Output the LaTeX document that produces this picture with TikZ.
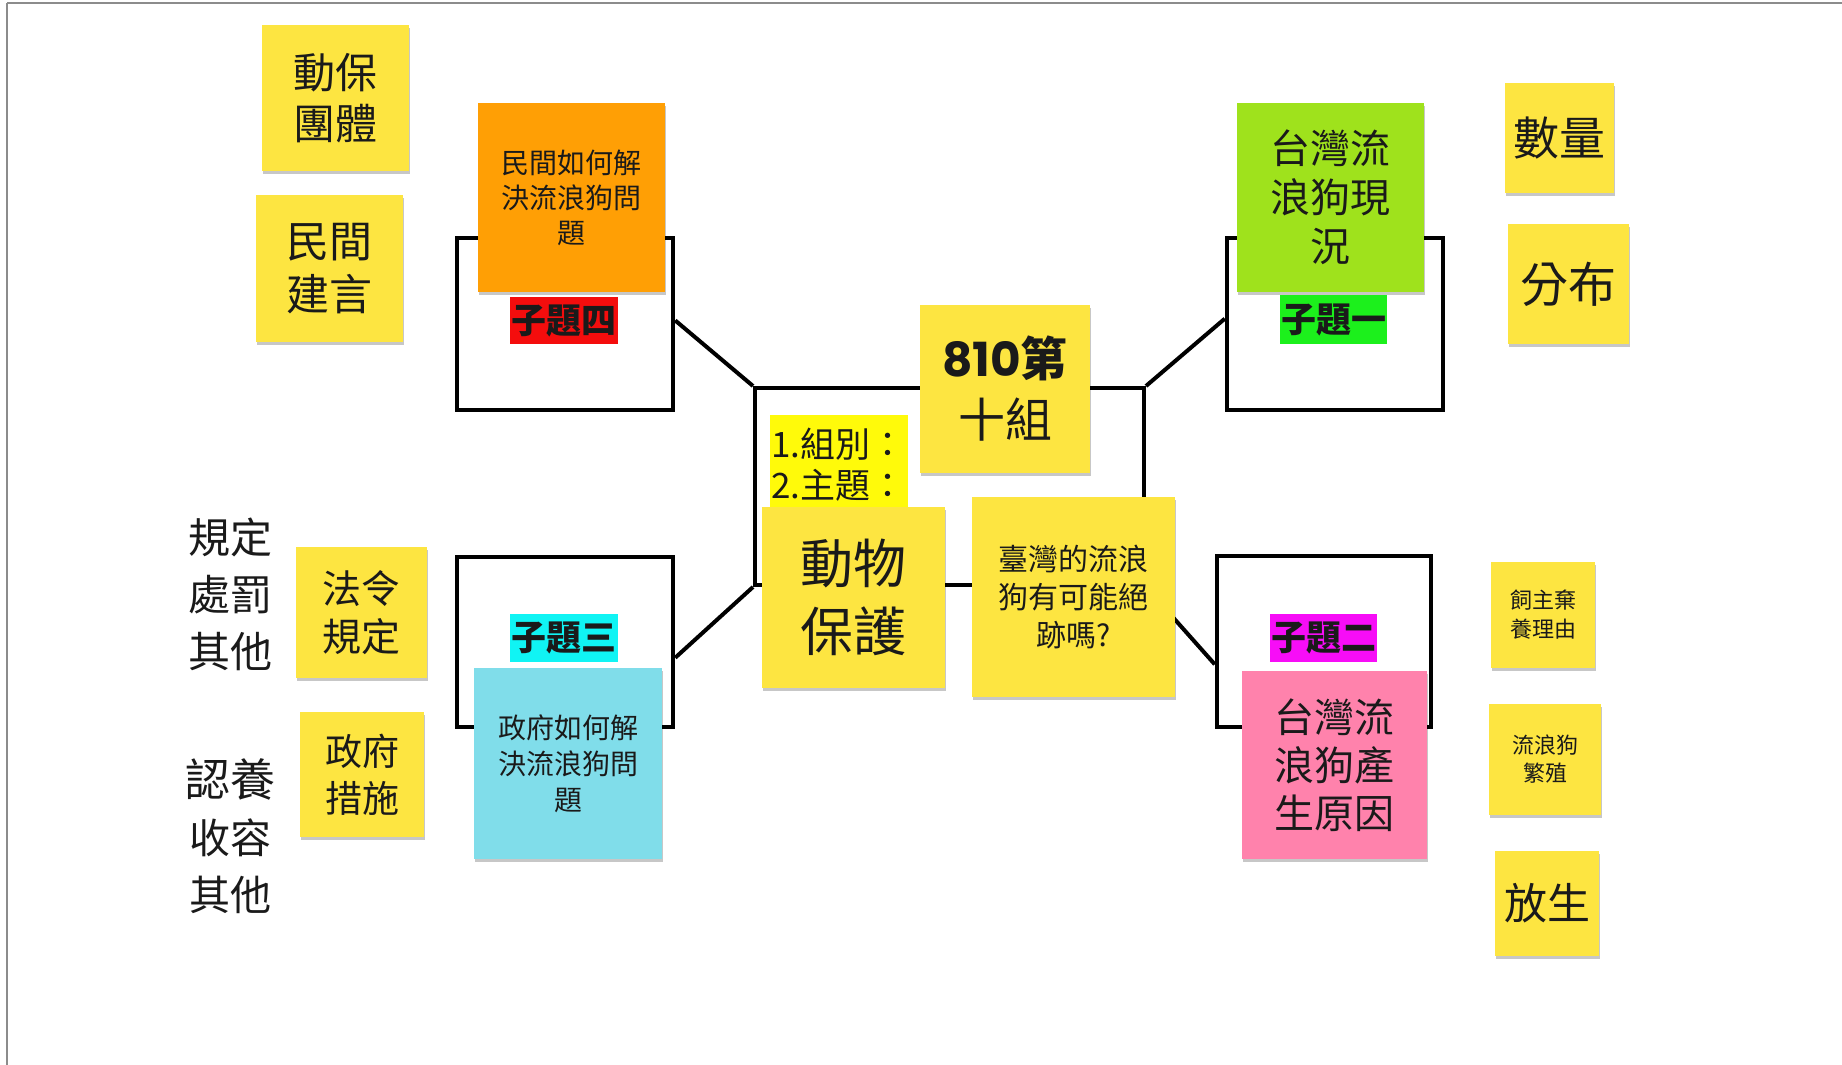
\documentclass[tikz,border=0pt]{standalone}
\usepackage{fontspec}
\setmainfont{Noto Sans CJK TC}
\newfontfamily\popfont{Poppins}
\usetikzlibrary{calc,shadows}
\definecolor{sticky}{HTML}{FDE541}
\definecolor{orangenote}{HTML}{FF9F05}
\definecolor{greennote}{HTML}{9FE21C}
\definecolor{bluenote}{HTML}{80DDEA}
\definecolor{pinknote}{HTML}{FF82AC}
\definecolor{labred}{HTML}{F40D0D}
\definecolor{labgreen}{HTML}{1CF01C}
\definecolor{labcyan}{HTML}{10F4F4}
\definecolor{labmag}{HTML}{F70DF7}
\definecolor{hilite}{HTML}{FFFA0A}
\definecolor{ink}{HTML}{1A1A1A}
\definecolor{rim}{HTML}{8C8C8C}
\newcommand{\fs}[2]{\fontsize{#1}{#2}\selectfont}
\begin{document}
\begin{tikzpicture}[x=1pt,y=-1pt,
  note/.style={rectangle, inner sep=0pt, align=center, text=ink,
    drop shadow={shadow xshift=1pt, shadow yshift=-3pt, opacity=.22, fill=black}},
  frame/.style={rectangle, draw=black, line width=4.5pt, inner sep=0pt},
  conn/.style={draw=black, line width=4pt},
  lab/.style={rectangle, inner sep=0pt, text=ink, font=\bfseries\fs{35}{40}},
  plain/.style={inner sep=0pt, align=center, text=ink}]
\useasboundingbox (0,0) rectangle (1842,1065);
\fill[white] (0,0) rectangle (1842,1065);
\draw[rim, line width=2.5pt] (7,3) -- (1842,3);
\draw[rim, line width=2.5pt] (7,3) -- (7,1065);

% frames
\node[frame, minimum width=216, minimum height=172] (ftl) at (565,324) {};
\node[frame, minimum width=216, minimum height=172] (ftr) at (1335,324) {};
\node[frame, minimum width=216, minimum height=170] (fbl) at (565,642) {};
\node[frame, minimum width=214, minimum height=171] (fbr) at (1324,641.5) {};
\node[frame, line width=4pt, minimum width=389, minimum height=197] (fc) at (949.5,486.5) {};

% connectors
\draw[conn] (fc.north west) -- ($(ftl.north east)!0.48!(ftl.south east)$);
\draw[conn] (fc.north east) -- ($(ftr.north west)!0.47!(ftr.south west)$);
\draw[conn] (fc.south west) -- ($(fbl.north east)!0.59!(fbl.south east)$);
\draw[conn] (fc.south east) -- ($(fbr.north west)!0.63!(fbr.south west)$);

% left side notes
\node[note, fill=sticky, minimum width=147, minimum height=146, font=\fs{42}{51}] (dongbao) at (335.5,98) {動保\\團體};
\node[note, fill=sticky, minimum width=147, minimum height=147, font=\fs{43}{53}] (minjian) at (329.5,268.5) {民間\\建言};
\node[note, fill=sticky, minimum width=131, minimum height=131, font=\fs{39}{48}] (faling) at (361.5,612.5) {法令\\規定};
\node[note, fill=sticky, minimum width=124, minimum height=125, font=\fs{37}{47}] (zhengfu) at (362,774.5) {政府\\措施};
\node[plain, font=\fs{42}{57}] (gd) at (230,594) {規定\\處罰\\其他};
\node[plain, font=\fs{41}{57}] (ry) at (230,836) {{\fs{45}{57}認養}\\收容\\其他};

% topic notes
\node[note, fill=orangenote, minimum width=187, minimum height=189, font=\fs{28}{35}] (orange) at (571.5,197.5) {民間如何解\\決流浪狗問\\題};
\node[lab, fill=labred, minimum width=108, minimum height=47] (t4) at (564,320.5) {子題四};
\node[note, fill=greennote, minimum width=187, minimum height=189, font=\fs{40}{49}] (green) at (1330.5,197.5) {台灣流\\浪狗現\\況};
\node[lab, fill=labgreen, minimum width=107, minimum height=49] (t1) at (1333.5,319.5) {子題一};
\node[lab, fill=labcyan, minimum width=108, minimum height=48] (t3) at (564,638) {子題三};
\node[note, fill=bluenote, minimum width=188, minimum height=191, font=\fs{28}{36}] (blue) at (568,763.5) {政府如何解\\決流浪狗問\\題};
\node[lab, fill=labmag, minimum width=107, minimum height=48] (t2) at (1323.5,638) {子題二};
\node[note, fill=pinknote, minimum width=185, minimum height=188, font=\fs{40}{48}] (pink) at (1334.5,765) {台灣流\\浪狗產\\生原因};

% right side notes
\node[note, fill=sticky, minimum width=109, minimum height=110, font=\fs{46}{52}] (shuliang) at (1559.5,138) {數量};
\node[note, fill=sticky, minimum width=121, minimum height=120, font=\fs{48}{54}] (fenbu) at (1568.5,284) {分布};
\node[note, fill=sticky, minimum width=104, minimum height=106, font=\fs{22}{29}] (siz) at (1543,615) {飼主棄\\養理由};
\node[note, fill=sticky, minimum width=112, minimum height=111, font=\fs{22}{28}] (fanzhi) at (1545,759.5) {流浪狗\\繁殖};
\node[note, fill=sticky, minimum width=104, minimum height=105, font=\fs{43}{50}] (fangsheng) at (1547,903.5) {放生};

% centre
\node[rectangle, fill=hilite, inner sep=0pt, minimum width=138, minimum height=100, anchor=north west] (hl) at (770,415) {};
\node[plain, anchor=north west, align=left, font=\fs{35}{41}] (hltext) at (771,428) {1.組別：\\2.主題：};
\node[note, fill=sticky, minimum width=170, minimum height=168, font=\fs{47}{61}] (group) at (1005,389) {{\popfont\bfseries 810}{\bfseries 第}\\十組};
\node[note, fill=sticky, minimum width=183, minimum height=181, font=\fs{53}{68}] (dongwu) at (853.5,597.5) {動物\\保護};
\node[note, fill=sticky, minimum width=203, minimum height=200, font=\fs{30}{38}] (taiwan) at (1073.5,597) {臺灣的流浪\\狗有可能絕\\跡嗎?};
\end{tikzpicture}
\end{document}
